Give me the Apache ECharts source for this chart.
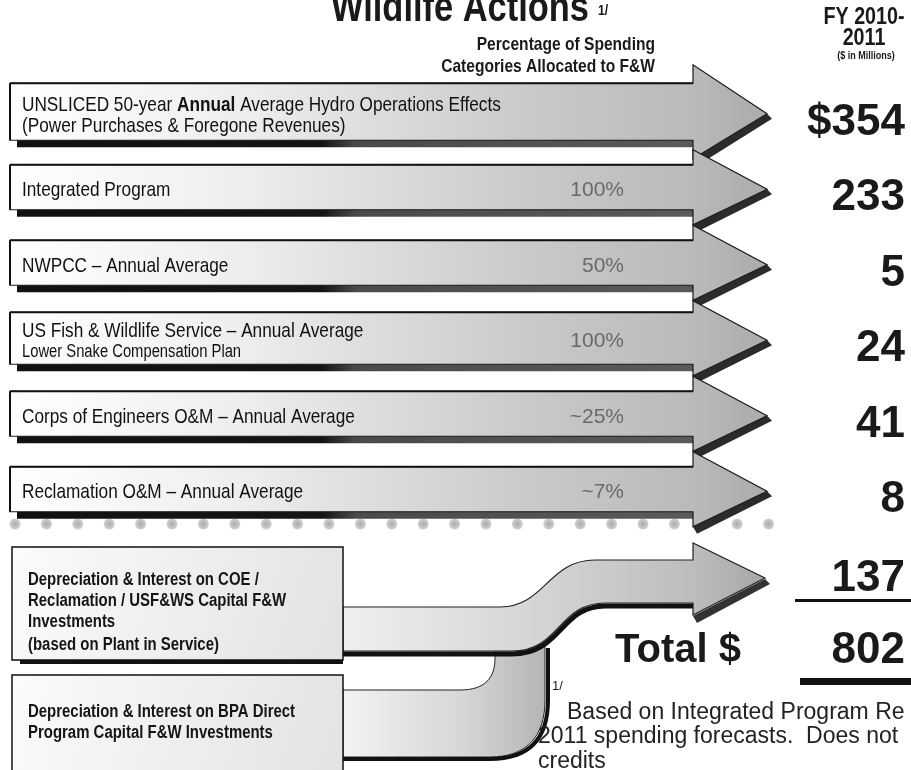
<!DOCTYPE html>
<html>
<head>
<meta charset="utf-8">
<title>F&amp;W spending</title>
<script src="https://cdn.jsdelivr.net/npm/echarts@6/dist/echarts.min.js"></script>
<style>
  html, body { margin: 0; padding: 0; background: #fff; }
  #chart { width: 911px; height: 770px; }
</style>
</head>
<body>
<div id="chart"></div>
<script>
// spending categories (one arrow each)
const rowLabels = [
  'UNSLICED 50-year Annual Average Hydro Operations Effects',
  'Integrated Program',
  'NWPCC – Annual Average',
  'US Fish & Wildlife Service – Annual Average',
  'Corps of Engineers O&M – Annual Average',
  'Reclamation O&M – Annual Average'
];
const rowSubLabels = ['(Power Purchases & Foregone Revenues)', '', '', 'Lower Snake Compensation Plan', '', ''];
const fwShares = ['', '100%', '50%', '100%', '~25%', '~7%'];
const rowValues = [354, 233, 5, 24, 41, 8];   // FY 2010-2011, $ millions

// capital part at the bottom
const capitalLabels = ['Depreciation & Interest on COE /', 'Reclamation / USF&WS Capital F&W', 'Investments', '(based on Plant in Service)'];
const bpaLabels = ['Depreciation & Interest on BPA Direct', 'Program Capital F&W Investments'];
const capitalValue = 137;
const totalValue = 802;

// no Arial Narrow installed: squeeze Liberation Sans instead
const SANS = '"Liberation Sans", Arial, sans-serif';
const NARROW = 0.82;

function txt(x, y, text, font, align, fill, sx) {
  return {
    type: 'text',
    x: x, y: y,
    scaleX: sx || 1,
    style: {
      x: 0, y: 0, text: text, font: font + ' ' + SANS,
      align: align || 'left', textAlign: align || 'left',
      verticalAlign: 'middle', textVerticalAlign: 'middle',
      fill: fill || '#111'
    }
  };
}

// one arrow per row
function renderRow(params, api) {
  const i = api.value(1);
  const cy = api.coord([0, i])[1];
  const x0 = api.coord([10, i])[0];
  const x1 = api.coord([693, i])[0];
  const tip = api.coord([767, i])[0];
  const twoLine = rowSubLabels[i] !== '';
  const half = twoLine ? (i === 0 ? 28.5 : 26) : 22.5;
  const head = i === 0 ? 47 : 37.5;
  const yt = cy - half, yb = cy + half;
  const tipY = cy + 2;

  const kids = [];
  // head shadow
  kids.push({
    type: 'polygon',
    shape: { points: [[tip, tipY], [x1, cy + head], [x1 + 4, cy + head + 7], [tip + 5, tipY + 5]] },
    style: { fill: '#2b2b2b' }
  });
  // body shadow
  kids.push({
    type: 'rect',
    shape: { x: x0 + 7, y: yb - 1, width: x1 - x0 - 5, height: 8 },
    style: {
      fill: new echarts.graphic.LinearGradient(0, 0, 1, 0, [
        { offset: 0, color: '#111' }, { offset: 0.45, color: '#151515' },
        { offset: 0.5, color: '#4a4a4a' }, { offset: 1, color: '#5a5a5a' }
      ])
    }
  });
  // body + head
  kids.push({
    type: 'polygon',
    shape: { points: [[x0, yt], [x1, yt], [x1, cy - head], [tip, tipY], [x1, cy + head], [x1, yb], [x0, yb]] },
    style: {
      fill: new echarts.graphic.LinearGradient(0, 0, 1, 0, [
        { offset: 0, color: '#ffffff' }, { offset: 0.3, color: '#eeeeee' },
        { offset: 0.7, color: '#c8c8c8' }, { offset: 0.9, color: '#bababa' },
        { offset: 1, color: '#ababab' }
      ]),
      stroke: '#1a1a1a', lineWidth: 1.2
    }
  });
  kids.push({ type: 'line', shape: { x1: x0, y1: yt, x2: x1, y2: yt }, style: { stroke: '#111', lineWidth: 2 } });
  kids.push({ type: 'line', shape: { x1: x0, y1: yt, x2: x0, y2: yb }, style: { stroke: '#111', lineWidth: 2 } });

  if (i === 0) {
    // "Annual" is set in bold in the first line
    const parts = rowLabels[0].split('Annual');
    const t = txt(x0 + 12, cy - 7, '', '21px', 'left', '#111', NARROW);
    t.style.text = '{n|' + parts[0] + '}{b|Annual}{n|' + parts[1] + '}';
    t.style.rich = {
      n: { font: '21px ' + SANS, fill: '#111' },
      b: { font: 'bold 21px ' + SANS, fill: '#111' }
    };
    kids.push(t);
    kids.push(txt(x0 + 12, cy + 14, rowSubLabels[i], '21px', 'left', '#111', NARROW));
  } else if (twoLine) {
    kids.push(txt(x0 + 12, cy - 7, rowLabels[i], '21px', 'left', '#111', NARROW));
    kids.push(txt(x0 + 12, cy + 14, rowSubLabels[i], '18px', 'left', '#111', NARROW));
  } else {
    kids.push(txt(x0 + 12, cy + 3, rowLabels[i], '21px', 'left', '#111', NARROW));
  }
  if (fwShares[i]) {
    kids.push(txt(api.coord([624, i])[0], cy + 3, fwShares[i], '21px', 'right', '#6a6a6a'));
  }
  kids.push(txt(api.coord([905, i])[0], cy + 11, (i === 0 ? '$' : '') + api.value(2), 'bold 44px', 'right', '#1a1a1a'));
  return { type: 'group', children: kids };
}

// capital flow at the bottom
function renderCapital(params, api) {
  const cy = api.coord([0, 0])[1];
  const p = (x, dy) => x + ' ' + (cy + dy);
  const kids = [];

  // lower band (BPA direct) rising into the upper band
  kids.push({
    type: 'path',
    shape: { pathData: 'M' + p(343, 112) + ' L' + p(460, 112) + ' C' + p(485, 112) + ' ' + p(495, 100) + ' ' + p(495, 80) +
      ' L' + p(495, 66) + ' L' + p(545, 66) + ' L' + p(545, 122) + ' C' + p(545, 160) + ' ' + p(525, 179) + ' ' + p(490, 179) +
      ' L' + p(343, 179) + ' Z' },
    style: {
      fill: new echarts.graphic.LinearGradient(0, 0, 1, 0, [
        { offset: 0, color: '#f3f3f3' }, { offset: 0.6, color: '#d6d6d6' }, { offset: 1, color: '#b5b5b5' }
      ]),
      stroke: '#222', lineWidth: 1
    }
  });
  kids.push({
    type: 'path',
    shape: { pathData: 'M' + p(343, 181) + ' L' + p(490, 181) + ' C' + p(528, 181) + ' ' + p(548, 162) + ' ' + p(548, 122) + ' L' + p(548, 70) },
    style: { fill: null, stroke: '#111', lineWidth: 4 }
  });

  // box 2
  kids.push({
    type: 'rect', shape: { x: 12, y: cy + 97, width: 331, height: 110 },
    style: {
      fill: new echarts.graphic.LinearGradient(0, 0, 1, 1, [{ offset: 0, color: '#fbfbfb' }, { offset: 1, color: '#e2e2e2' }]),
      stroke: '#111', lineWidth: 1.5
    }
  });
  bpaLabels.forEach((t, k) => kids.push(txt(28, cy + 134 + k * 21, t, 'bold 18px', 'left', '#151515', 0.83)));

  // upper band + arrow head
  kids.push({
    type: 'polygon',
    shape: { points: [[765, cy + 1], [693, cy + 38], [697, cy + 45], [770, cy + 6]] },
    style: { fill: '#333' }
  });
  kids.push({
    type: 'path',
    shape: { pathData: 'M' + p(343, 29) + ' L' + p(500, 29) + ' C' + p(545, 29) + ' ' + p(548, -18) + ' ' + p(595, -18) +
      ' L' + p(693, -18) + ' L' + p(693, -35) + ' L' + p(765, 0) + ' L' + p(693, 37) + ' L' + p(693, 25) +
      ' L' + p(605, 25) + ' C' + p(558, 25) + ' ' + p(560, 73) + ' ' + p(512, 73) + ' L' + p(343, 73) + ' Z' },
    style: {
      fill: new echarts.graphic.LinearGradient(0, 0, 1, 0, [
        { offset: 0, color: '#efefef' }, { offset: 0.5, color: '#d2d2d2' },
        { offset: 0.83, color: '#bdbdbd' }, { offset: 1, color: '#a6a6a6' }
      ]),
      stroke: '#222', lineWidth: 1.2
    }
  });
  kids.push({
    type: 'path',
    shape: { pathData: 'M' + p(343, 76) + ' L' + p(512, 76) + ' C' + p(562, 76) + ' ' + p(560, 28) + ' ' + p(605, 28) + ' L' + p(693, 28) },
    style: { fill: null, stroke: '#111', lineWidth: 5 }
  });

  // box 1
  kids.push({ type: 'rect', shape: { x: 20, y: cy + 80, width: 323, height: 6 }, style: { fill: '#111' } });
  kids.push({
    type: 'rect', shape: { x: 12, y: cy - 31, width: 331, height: 113 },
    style: {
      fill: new echarts.graphic.LinearGradient(0, 0, 1, 1, [{ offset: 0, color: '#fbfbfb' }, { offset: 1, color: '#e2e2e2' }]),
      stroke: '#111', lineWidth: 1.5
    }
  });
  capitalLabels.forEach((t, k) => kids.push(txt(28, cy + 2 + k * 21 + (k === 3 ? 2 : 0), t, 'bold 18px', 'left', '#151515', 0.83)));

  // values
  kids.push(txt(905, cy + 1, String(api.value(2)), 'bold 44px', 'right', '#1a1a1a'));
  kids.push({ type: 'rect', shape: { x: 795, y: cy + 21, width: 116, height: 3 }, style: { fill: '#111' } });
  kids.push(txt(678, cy + 73, 'Total $', 'bold 40px', 'center', '#1a1a1a'));
  kids.push(txt(905, cy + 73, String(totalValue), 'bold 44px', 'right', '#1a1a1a'));
  kids.push({ type: 'rect', shape: { x: 800, y: cy + 100, width: 111, height: 7 }, style: { fill: '#111' } });
  return { type: 'group', children: kids };
}

// dotted separator
const dots = [];
for (let k = 0; k < 25; k++) {
  dots.push({
    type: 'circle', shape: { cx: 15 + k * 31.4, cy: 524, r: 5.5 },
    style: { fill: new echarts.graphic.RadialGradient(0.5, 0.5, 0.5, [{ offset: 0, color: '#aaaaaa' }, { offset: 1, color: '#d2d2d2' }]) },
    z: 1
  });
}

function gtxt(x, y, text, font, align, fill, sx) {
  const t = txt(x, y, text, font, align, fill, sx);
  t.z = 10;
  return t;
}

const chart = echarts.init(document.getElementById('chart'));
chart.setOption({
  animation: false,
  backgroundColor: '#fff',
  grid: [
    { left: 0, right: 0, top: 74, height: 453 },
    { left: 0, right: 0, top: 540, height: 76 }
  ],
  xAxis: [
    { type: 'value', min: 0, max: 911, show: false, gridIndex: 0 },
    { type: 'value', min: 0, max: 911, show: false, gridIndex: 1 }
  ],
  yAxis: [
    { type: 'category', data: rowLabels, inverse: true, show: false, gridIndex: 0 },
    { type: 'category', data: ['Capital F&W'], show: false, gridIndex: 1 }
  ],
  graphic: [
    gtxt(460, 9, 'Wildlife Actions', 'bold 42px', 'center', '#1a1a1a', NARROW),
    gtxt(598, 11, '1/', 'bold 15px', 'left', '#1a1a1a', NARROW),
    gtxt(655, 45, 'Percentage of Spending', 'bold 19px', 'right', '#1a1a1a', NARROW),
    gtxt(655, 67, 'Categories Allocated to F&W', 'bold 19px', 'right', '#1a1a1a', NARROW),
    gtxt(864, 17, 'FY 2010-', 'bold 24px', 'center', '#1a1a1a', NARROW),
    gtxt(864, 38, '2011', 'bold 24px', 'center', '#1a1a1a', NARROW),
    gtxt(866, 56, '($ in Millions)', 'bold 11px', 'center', '#1a1a1a', NARROW),
    gtxt(552, 686, '1/', '13px', 'left', '#222'),
    gtxt(567, 713, 'Based on Integrated Program Re', '23px', 'left', '#222'),
    gtxt(538, 737, '2011 spending forecasts.  Does not', '23px', 'left', '#222'),
    gtxt(538, 762, 'credits', '23px', 'left', '#222')
  ].concat(dots),
  series: [
    {
      type: 'custom',
      xAxisIndex: 0, yAxisIndex: 0,
      renderItem: renderRow,
      data: rowValues.map((v, i) => [0, i, v]),
      z: 2
    },
    {
      type: 'custom',
      xAxisIndex: 1, yAxisIndex: 1,
      renderItem: renderCapital,
      data: [[0, 0, capitalValue]],
      z: 2
    }
  ]
});
</script>
</body>
</html>
